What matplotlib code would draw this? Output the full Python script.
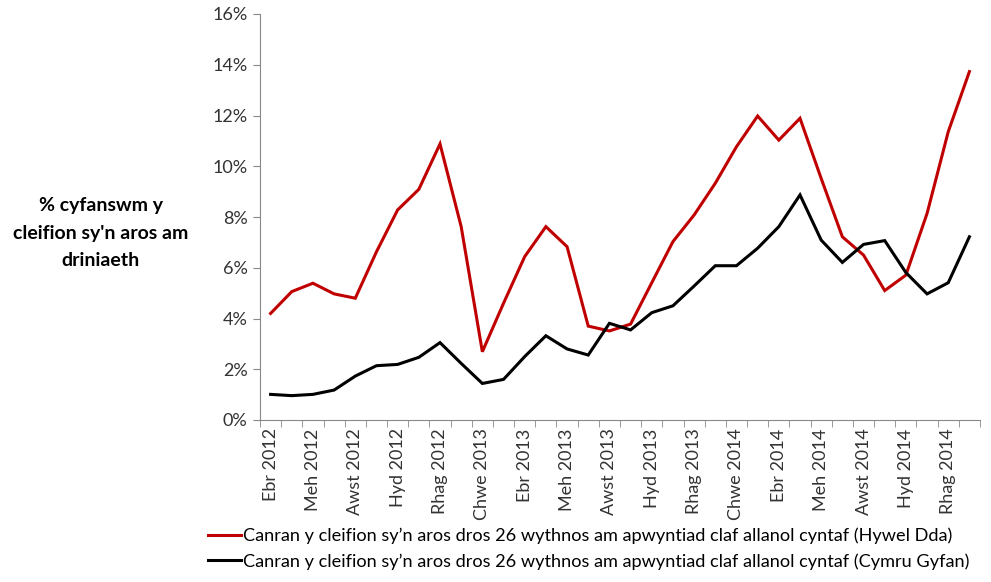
import matplotlib.pyplot as plt

plt.rcParams['font.family'] = ['Lato', 'DejaVu Sans']

# monthly series, Ebr 2012 .. Ion 2015
months = ['Ebr 2012', 'Mai 2012', 'Meh 2012', 'Gorff 2012', 'Awst 2012', 'Medi 2012',
          'Hyd 2012', 'Tach 2012', 'Rhag 2012', 'Ion 2013', 'Chwe 2013', 'Maw 2013',
          'Ebr 2013', 'Mai 2013', 'Meh 2013', 'Gorff 2013', 'Awst 2013', 'Medi 2013',
          'Hyd 2013', 'Tach 2013', 'Rhag 2013', 'Ion 2014', 'Chwe 2014', 'Maw 2014',
          'Ebr 2014', 'Mai 2014', 'Meh 2014', 'Gorff 2014', 'Awst 2014', 'Medi 2014',
          'Hyd 2014', 'Tach 2014', 'Rhag 2014', 'Ion 2015']

hywel_dda = [4.20, 5.06, 5.39, 4.97, 4.80, 6.63, 8.28, 9.09, 10.88, 7.62,
             2.69, 4.60, 6.44, 7.62, 6.83, 3.70, 3.51, 3.78, 5.41, 7.03,
             8.08, 9.33, 10.77, 11.98, 11.03, 11.89, 9.52, 7.22, 6.50, 5.10,
             5.71, 8.14, 11.36, 13.73]

cymru = [1.01, 0.96, 1.01, 1.18, 1.73, 2.14, 2.19, 2.47, 3.05, 2.23,
         1.44, 1.60, 2.50, 3.32, 2.80, 2.56, 3.81, 3.55, 4.23, 4.50,
         5.28, 6.08, 6.08, 6.77, 7.62, 8.87, 7.09, 6.21, 6.92, 7.07,
         5.81, 4.97, 5.41, 7.22]

label_hd = 'Canran y cleifion sy\u2019n aros dros 26 wythnos am apwyntiad claf allanol cyntaf (Hywel Dda)'
label_cg = 'Canran y cleifion sy\u2019n aros dros 26 wythnos am apwyntiad claf allanol cyntaf (Cymru Gyfan)'

fig = plt.figure(figsize=(9.91, 5.82), dpi=100)
ax = fig.add_axes([260 / 991, 1 - 420 / 582, 720 / 991, 406 / 582])

x = list(range(len(months)))
l1, = ax.plot(x, hywel_dda, color='#C00000', lw=2.2, solid_joinstyle='miter')
l2, = ax.plot(x, cymru, color='black', lw=2.2, solid_joinstyle='miter')

ax.set_xlim(-0.5, len(months) - 0.5)
ax.set_ylim(0, 16)
ax.set_yticks(range(0, 17, 2))
ax.set_yticklabels([f'{v}%' for v in range(0, 17, 2)], fontsize=13, color='#333333')

# tick marks between categories, labels every second month
ax.set_xticks([i - 0.5 for i in range(len(months) + 1)], minor=True)
ax.set_xticks(x[::2])
ax.set_xticklabels(months[::2], rotation=90, fontsize=13, color='#333333')
ax.tick_params(axis='x', which='major', length=0, pad=6)
ax.tick_params(axis='x', which='minor', length=5, color='#888888')
ax.tick_params(axis='y', length=5, color='#888888', pad=4)

for side in ['top', 'right']:
    ax.spines[side].set_visible(False)
for side in ['left', 'bottom']:
    ax.spines[side].set_color('#888888')

fig.text(101 / 991, 1 - 233 / 582, '% cyfanswm y\ncleifion sy\'n aros am\ndriniaeth',
         ha='center', va='center', fontsize=14, fontweight='bold', linespacing=1.75)

fig.legend([l1, l2], [label_hd, label_cg], loc='upper left',
           bbox_to_anchor=(192 / 991, 1 - 511 / 582), frameon=False,
           fontsize=13.1, handlelength=1.8, handletextpad=0.12, labelspacing=0.5)

fig.savefig('out.png', dpi=100)
